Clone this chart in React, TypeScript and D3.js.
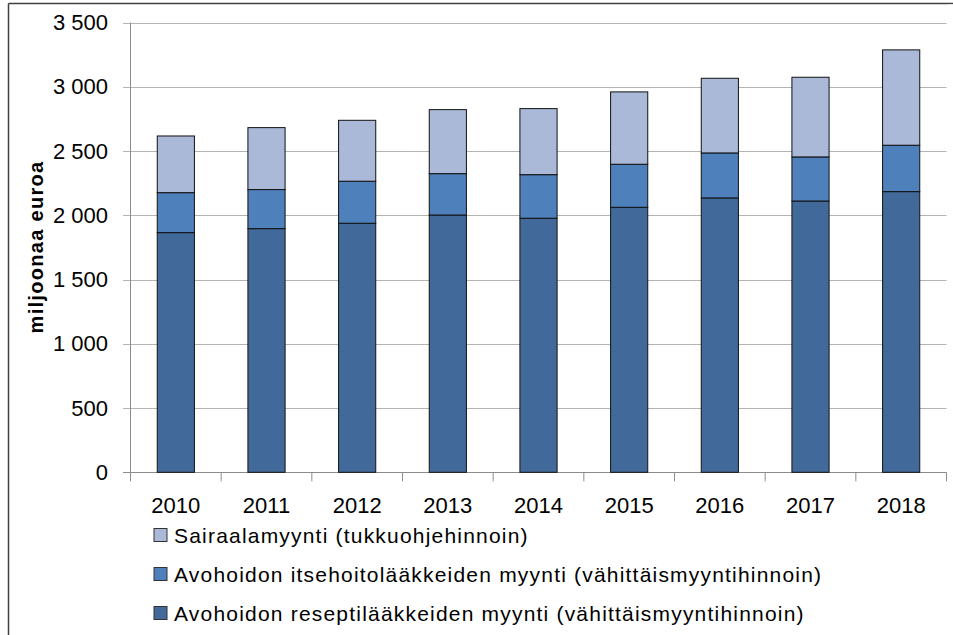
import React from "react";
import * as d3 from "d3";

const years = ["2010", "2011", "2012", "2013", "2014", "2015", "2016", "2017", "2018"];
const reseptiMyynti = [1865, 1896, 1938, 2002, 1977, 2062, 2135, 2111, 2184];
const itsehoitoMyynti = [311, 304, 327, 322, 339, 335, 350, 343, 361];
const sairaalaMyynti = [441, 482, 474, 498, 514, 563, 581, 620, 742];
const yTicks = [0, 500, 1000, 1500, 2000, 2500, 3000, 3500];

const seriesKeys = ["resepti", "itsehoito", "sairaala"];
const seriesColors: Record<string, string> = {
    resepti: "#416a9b",
    itsehoito: "#4e80bb",
    sairaala: "#aab9d7"
};
// legend order is reversed (top = last series)
const legendItems = [
    { key: "sairaala", label: "Sairaalamyynti (tukkuohjehinnoin)" },
    { key: "itsehoito", label: "Avohoidon itsehoitolääkkeiden myynti (vähittäismyyntihinnoin)" },
    { key: "resepti", label: "Avohoidon reseptilääkkeiden myynti (vähittäismyyntihinnoin)" }
];

const WIDTH = 953;
const HEIGHT = 635;
const FONT = "'Liberation Sans', Arial, sans-serif";

const fmt = (v: number) => d3.format(",")(v).replace(/,/g, " ");

export default function App() {
    React.useEffect(() => {
        // no scrollbars
        document.documentElement.style.overflow = "hidden";
        document.body.style.overflow = "hidden";
    }, []);

    const margin = { top: 22.5, right: 6.5, bottom: 163, left: 130.5 };

    const rows = years.map((y, i) => ({
        year: y,
        resepti: reseptiMyynti[i],
        itsehoito: itsehoitoMyynti[i],
        sairaala: sairaalaMyynti[i]
    }));

    const x = d3.scaleBand<string>()
        .domain(years)
        .range([margin.left, WIDTH - margin.right])
        .paddingInner(0.59)
        .paddingOuter(0.295);

    const y = d3.scaleLinear([0, 3500], [472.3, margin.top]);

    const stack = d3.stack<any>().keys(seriesKeys);
    const stacked = stack(rows);

    const step = x.step();
    const boundaries = d3.range(years.length + 1).map((i) => margin.left + i * step);

    return <svg width={WIDTH} height={HEIGHT}
        style={{ position: "fixed", left: 0, top: 0, background: "white", display: "block" }}
        fontFamily={FONT}>

        {/* chart border, only the top and left edges are in view */}
        <line x1={8.5} x2={8.5} y1={3.5} y2={HEIGHT} stroke="#404040" strokeWidth={1.5} />
        <line x1={8.5} x2={WIDTH} y1={3.5} y2={3.5} stroke="#404040" strokeWidth={1.5} />

        <g name="grid">
            {yTicks.map((t) => (
                <g key={t}>
                    <line x1={123} x2={WIDTH - margin.right}
                        y1={Math.round(y(t)) + 0.5} y2={Math.round(y(t)) + 0.5}
                        stroke={t === 0 ? "#8c8c8c" : "#b4b4b4"} strokeWidth={1} />
                    <text x={108} y={y(t)} dominantBaseline="central" textAnchor="end"
                        fontSize={22} fill="#000">{fmt(t)}</text>
                </g>
            ))}
            <line x1={margin.left} x2={margin.left} y1={y(3500)} y2={y(0)}
                stroke="#8c8c8c" />
        </g>

        <g name="xTicks">
            {boundaries.map((b, i) => (
                <line key={i} x1={b} x2={b} y1={y(0)} y2={y(0) + 9} stroke="#8c8c8c" />
            ))}
            {years.map((yr) => (
                <text key={yr} x={x(yr)! + x.bandwidth() / 2} y={505} textAnchor="middle"
                    dominantBaseline="central" fontSize={22} fill="#000">{yr}</text>
            ))}
        </g>

        <g name="bars">
            {stacked.map((s) => (
                <g key={s.key} fill={seriesColors[s.key]}>
                    {s.map((d, i) => (
                        <rect key={i} x={x(years[i])!} width={x.bandwidth()}
                            y={y(d[1])} height={y(d[0]) - y(d[1])}
                            stroke="#111" strokeWidth={1} />
                    ))}
                </g>
            ))}
        </g>

        <text transform={`translate(36,247) rotate(-90)`} textAnchor="middle"
            dominantBaseline="central" fontWeight="bold" fontSize={20} letterSpacing={1.3}
            fill="#000">
            miljoonaa euroa
        </text>

        <g name="legend">
            {legendItems.map((item, i) => {
                const cy = 535 + i * 39;
                return <g key={item.key}>
                    <rect x={154} y={cy - 6.5} width={13} height={13}
                        fill={seriesColors[item.key]} stroke="#333" strokeWidth={1} />
                    <text x={174} y={cy} dominantBaseline="central" fontSize={21}
                        letterSpacing={1.2} fill="#000">
                        {item.label}
                    </text>
                </g>;
            })}
        </g>

        {/* keep the strip right of the plot clean */}
        <rect x={947.5} y={4.5} width={6} height={HEIGHT} fill="white" />
    </svg>;
}
